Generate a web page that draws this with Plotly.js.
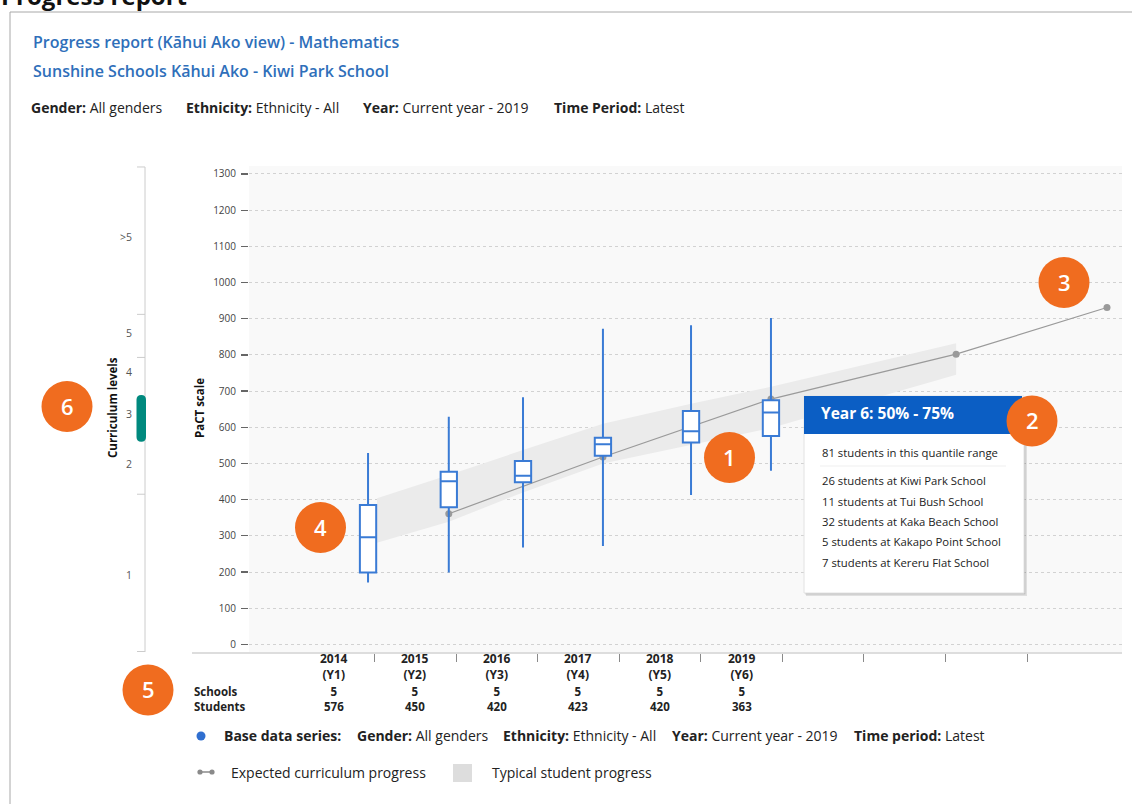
<!DOCTYPE html>
<html><head><meta charset="utf-8">
<script src="https://cdn.plot.ly/plotly-3.0.1.min.js"></script>
<style>html,body{margin:0;padding:0;background:#fff;overflow:hidden}#chart{width:1132px;height:804px}</style>
</head><body><div id="chart"></div>
<script>
// ---------- data ----------
const years = ['2014','2015','2016','2017','2018','2019'];
const yearLevels = ['(Y1)','(Y2)','(Y3)','(Y4)','(Y5)','(Y6)'];
const schools = [5,5,5,5,5,5];
const students = [576,450,420,423,420,363];

const boxX = [0.92, 1.91, 2.82, 3.80, 4.88, 5.86];
const upperFence = [529, 629, 683, 872, 882, 902];
const q3 = [385, 477, 507, 571, 645, 675];
const median = [296, 451, 466, 553, 589, 641];
const q1 = [199, 379, 448, 521, 558, 576];
const lowerFence = [171, 199, 268, 272, 413, 480];

const expX = [1.91, 3.80, 5.86, 8.13, 9.98];
const expY = [361, 518, 678, 802, 931];

const bandX = [1.03, 1.91, 2.82, 3.80, 4.88, 5.86, 8.13];
const bandUpper = [404, 468, 537, 610, 665, 712, 832];
const bandLower = [281, 339, 420, 500, 552, 598, 745];

const yTicks = [0,100,200,300,400,500,600,700,800,900,1000,1100,1200,1300];
const sepTicks = [1,2,3,4,5,6,7,8,9];

const currLabels = ['>5','5','4','3','2','1'];
const currLabelY = [1126, 861, 752, 636, 498, 192];
const currBounds = [415, 793, 912];
const currHighlight = [560, 689];

const tipTitle = 'Year 6: 50% - 75%';
const tipTotal = 81;
const tipCounts = [26, 11, 32, 5, 7];
const tipSchools = ['Kiwi Park School','Tui Bush School','Kaka Beach School','Kakapo Point School','Kereru Flat School'];

// ---------- layout helpers ----------
const W = 1132, H = 804;
const L = 249, R = 1122, T = 166, B = 652;
const px = X => (X - L) / (R - L);
const py = Y => (B - Y) / (B - T);
const xRange = [-0.5395, 10.164];
const yRange = [-21, 1322];
const FONT = 'Open Sans, Noto Sans, sans-serif';

function txt(text, X, Y, o = {}) {
  return {
    text, x: o.xdata !== undefined ? o.xdata : px(X), xref: o.xdata !== undefined ? 'x' : 'paper',
    y: o.ydata !== undefined ? o.ydata : py(Y), yref: o.ydata !== undefined ? 'y' : 'paper',
    xanchor: o.anchor || 'left', yanchor: 'middle', showarrow: false,
    textangle: o.angle || 0, align: o.align || 'center',
    font: {family: FONT, size: o.size || 14, color: o.color || '#222', weight: o.weight || 400}
  };
}
function circ(X, Y, r, color) {
  return {type: 'circle', xref: 'paper', yref: 'paper', x0: px(X - r), x1: px(X + r), y0: py(Y + r), y1: py(Y - r),
    fillcolor: color, line: {width: 0}, layer: 'above'};
}
function rect(X0, Y0, X1, Y1, fill, lineColor, layer) {
  return {type: 'rect', xref: 'paper', yref: 'paper', x0: px(X0), x1: px(X1), y0: py(Y1), y1: py(Y0),
    fillcolor: fill, line: {width: lineColor ? 1 : 0, color: lineColor || fill}, layer: layer || 'above'};
}
function hline(X0, X1, Y, color, w) {
  return {type: 'line', xref: 'paper', yref: 'paper', x0: px(X0), x1: px(X1), y0: py(Y), y1: py(Y), line: {color, width: w || 1}, layer: 'above'};
}
function vline(X, Y0, Y1, color, w) {
  return {type: 'line', xref: 'paper', yref: 'paper', x0: px(X), x1: px(X), y0: py(Y0), y1: py(Y1), line: {color, width: w || 1}, layer: 'above'};
}

// ---------- traces ----------
const band = {
  type: 'scatter', mode: 'lines', xaxis: 'x', yaxis: 'y',
  x: bandX.concat(bandX.slice().reverse()),
  y: bandUpper.concat(bandLower.slice().reverse()),
  fill: 'toself', fillcolor: '#ebebeb', line: {width: 0}, hoverinfo: 'skip', showlegend: false
};
const expected = {
  type: 'scatter', mode: 'lines+markers', xaxis: 'x', yaxis: 'y',
  x: expX, y: expY, line: {color: '#9a9a9a', width: 1.2},
  marker: {color: '#9a9a9a', size: 7}, hoverinfo: 'skip', showlegend: false
};
const boxes = {
  type: 'box', xaxis: 'x2', yaxis: 'y2',
  x: boxX, q1, median, q3, lowerfence: lowerFence, upperfence: upperFence,
  width: 0.2, whiskerwidth: 0, fillcolor: '#ffffff',
  line: {color: '#3a7bd5', width: 2}, hoverinfo: 'skip', showlegend: false
};

// ---------- annotations & shapes ----------
const ann = [];
const shp = [];

// outer frame + heading
shp.push(hline(10, 1140, 12, '#a8a8a8', 1));
shp.push(vline(10, 12, 810, '#a8a8a8', 1));
ann.push(txt('Progress report', -1, -4, {size: 24, weight: 700, color: '#111'}));

ann.push(txt('Progress report (Kāhui Ako view) - Mathematics', 31, 42, {size: 16, weight: 600, color: '#2f6fba'}));
ann.push(txt('Sunshine Schools Kāhui Ako - Kiwi Park School', 31, 71, {size: 16, weight: 600, color: '#2f6fba'}));

const filterTop = [['Gender:', 'All genders', 29], ['Ethnicity:', 'Ethnicity - All', 184], ['Year:', 'Current year - 2019', 361], ['Time Period:', 'Latest', 552]];
filterTop.forEach(f => ann.push(txt('<b>' + f[0] + '</b> ' + f[1], f[2], 107, {size: 14})));

// axis titles
ann.push(txt('<b>Curriculum levels</b>', 112, 408, {angle: -90, size: 11.5, anchor: 'center', color: '#111'}));
ann.push(txt('<b>PaCT scale</b>', 199, 408, {angle: -90, size: 11.5, anchor: 'center', color: '#111'}));

// curriculum levels axis
shp.push({type: 'line', xref: 'paper', yref: 'paper', x0: px(145), x1: px(145), y0: 0, y1: 0.998, line: {color: '#cccccc', width: 1}, layer: 'above'});
shp.push({type: 'line', xref: 'paper', yref: 'paper', x0: px(137), x1: px(145), y0: 0.998, y1: 0.998, line: {color: '#cccccc', width: 1}});
shp.push({type: 'line', xref: 'paper', yref: 'paper', x0: px(137), x1: px(145), y0: 0.001, y1: 0.001, line: {color: '#cccccc', width: 1}});
currBounds.forEach(v => shp.push({type: 'line', xref: 'paper', yref: 'y', x0: px(137), x1: px(145), y0: v, y1: v, line: {color: '#cccccc', width: 1}}));
currLabels.forEach((t, i) => ann.push(txt(t, 134, 0, {ydata: currLabelY[i], anchor: 'right', size: 10.5, color: '#555'})));
{
  const x0 = px(136.5), x1 = px(146), xm = px(141.25), r = 13;
  const y0 = currHighlight[0], y1 = currHighlight[1];
  shp.push({type: 'path', xref: 'paper', yref: 'y', fillcolor: '#00897e', line: {width: 0},
    path: `M ${x0},${y1 - r} Q ${x0},${y1} ${xm},${y1} Q ${x1},${y1} ${x1},${y1 - r} L ${x1},${y0 + r} Q ${x1},${y0} ${xm},${y0} Q ${x0},${y0} ${x0},${y0 + r} Z`});
}

// x axis extension to the left
shp.push(hline(192, 250, 653, '#dddddd', 2));

// x labels + counts table
years.forEach((y, i) => {
  ann.push(txt('<b>' + y + '</b><br><b>' + yearLevels[i] + '</b>', 0, 666, {xdata: i + 0.5, anchor: 'center', size: 12, color: '#222'}));
  ann.push(txt('<b>' + schools[i] + '</b><br><b>' + students[i] + '</b>', 0, 698.5, {xdata: i + 0.5, anchor: 'center', size: 11.5, color: '#222'}));
});
ann.push(txt('<b>Schools</b><br><b>Students</b>', 192, 698.5, {size: 11.5, align: 'left'}));

// legend line 1
shp.push(circ(201, 736, 4.5, '#2f6fd0'));
ann.push(txt('<b>Base data series:</b>', 222, 736, {size: 14}));
const filterBottom = [['Gender:', 'All genders', 355], ['Ethnicity:', 'Ethnicity - All', 501], ['Year:', 'Current year - 2019', 670], ['Time period:', 'Latest', 852]];
filterBottom.forEach(f => ann.push(txt('<b>' + f[0] + '</b> ' + f[1], f[2], 736, {size: 14})));

// legend line 2
shp.push(hline(200, 212, 772, '#8a8a8a', 1.5));
shp.push(circ(200, 772, 2.6, '#8a8a8a'));
shp.push(circ(212, 772, 2.6, '#8a8a8a'));
ann.push(txt('Expected curriculum progress', 229, 772, {size: 14}));
shp.push(rect(453, 764, 472, 782, '#dddddd'));
ann.push(txt('Typical student progress', 490, 772, {size: 14}));

// tooltip
shp.push(rect(806, 398, 1027, 596, 'rgba(0,0,0,0.10)'));
shp.push(rect(805, 397, 1025.5, 594.5, 'rgba(0,0,0,0.12)'));
shp.push(rect(804, 396, 1024, 593, '#ffffff', '#e2e2e2'));
shp.push(rect(804, 396, 1022, 434, '#0b5ec4'));
shp.push(hline(820, 1006, 466, '#efefef', 1));
ann.push(txt(tipTitle, 819, 413, {size: 15.5, weight: 700, color: '#ffffff'}));
ann.push(txt(tipTotal + ' students in this quantile range', 820, 452, {size: 11.3, color: '#222'}));
const tipY = [480, 501, 521, 541.5, 562];
tipCounts.forEach((c, i) => ann.push(txt(c + ' students at ' + tipSchools[i], 820, tipY[i], {size: 11.3, color: '#222'})));

// numbered callouts
const callouts = [['1', 729.5, 457.5], ['2', 1032, 421], ['3', 1064, 282.5], ['4', 320.5, 527.5], ['5', 148, 690], ['6', 67, 406.5]];
callouts.forEach(c => {
  shp.push(circ(c[1], c[2], 25.5, '#f06c1f'));
  ann.push(txt(c[0], c[1], c[2] - 1, {anchor: 'center', size: 22, weight: 600, color: '#ffffff'}));
});

const layout = {
  width: W, height: H,
  margin: {l: L, r: W - R, t: T, b: H - B, pad: 0},
  paper_bgcolor: '#ffffff', plot_bgcolor: '#f9f9f9',
  showlegend: false,
  font: {family: FONT, color: '#333'},
  xaxis: {range: xRange, tickvals: sepTicks, showticklabels: false, ticks: 'outside', ticklen: 8, tickcolor: '#8a8a8a', tickwidth: 1,
    showgrid: false, zeroline: false, showline: true, linecolor: '#dddddd', linewidth: 2, fixedrange: true},
  yaxis: {range: yRange, tickvals: yTicks, ticks: 'outside', ticklen: 7, tickcolor: '#666', tickwidth: 1.3,
    tickfont: {family: FONT, size: 10, color: '#444'}, ticklabelstandoff: 3,
    showgrid: true, gridcolor: '#d2d2d2', griddash: '3px,3px', gridwidth: 1, zeroline: false, showline: false, fixedrange: true},
  xaxis2: {range: xRange, overlaying: 'x', anchor: 'y2', visible: false, fixedrange: true},
  yaxis2: {range: yRange, overlaying: 'y', anchor: 'x2', visible: false, fixedrange: true},
  annotations: ann,
  shapes: shp
};

Plotly.newPlot('chart', [band, expected, boxes], layout, {displayModeBar: false, staticPlot: true});
</script>
</body></html>
